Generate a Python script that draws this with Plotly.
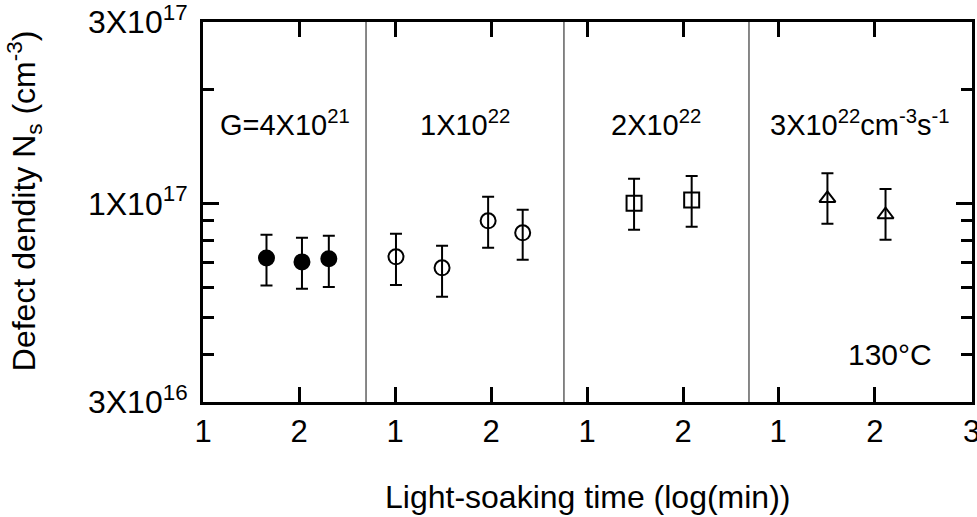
import plotly.graph_objects as go

# ---------------- data (x = log10 of light-soaking time in min) ----------------
# Panel 1: G = 4x10^21 (filled circles)
x_p1 = [1.66, 2.03, 2.31]
y_p1 = [7.18e16, 7.01e16, 7.14e16]
up_p1 = [1.08e16, 1.10e16, 1.07e16]
dn_p1 = [1.11e16, 1.05e16, 1.12e16]

# Panel 2: G = 1x10^22 (open circles)
x_p2 = [1.01, 1.49, 1.97, 2.33]
y_p2 = [7.23e16, 6.76e16, 8.99e16, 8.36e16]
up_p2 = [1.08e16, 0.97e16, 1.41e16, 1.25e16]
dn_p2 = [1.14e16, 1.09e16, 1.35e16, 1.26e16]

# Panel 3: G = 2x10^22 (open squares)
x_p3 = [1.49, 2.09]
y_p3 = [1.00e17, 1.02e17]
up_p3 = [1.60e16, 1.60e16]
dn_p3 = [1.48e16, 1.53e16]

# Panel 4: G = 3x10^22 (open triangles)
x_p4 = [1.51, 2.11]
y_p4 = [1.03e17, 9.33e16]
up_p4 = [1.70e16, 1.57e16]
dn_p4 = [1.47e16, 1.31e16]

panel_labels = ["G=4X10<sup>21</sup>", "1X10<sup>22</sup>", "2X10<sup>22</sup>",
                "3X10<sup>22</sup>cm<sup>-3</sup>s<sup>-1</sup>"]
x_tickvals = [1, 2, 3]
x_ticktext = ["1", "2", "3"]
y_tickvals = [3e16, 1e17, 3e17]
y_ticktext = ["3X10<sup>16</sup>", "1X10<sup>17</sup>", "3X10<sup>17</sup>"]
y_minor = [4e16, 5e16, 6e16, 7e16, 8e16, 9e16, 2e17]
temp_label = "130°C"

# ---------------- layout geometry ----------------
FONT = "Liberation Sans, Arial, Helvetica, sans-serif"
W, H = 977, 517
L, R, T, B = 203, 5, 22, 115
domains = [[0.0, 0.212], [0.212, 0.4694], [0.4694, 0.710], [0.710, 1.0]]
xranges = [[0.998, 2.698], [0.698, 2.760], [0.760, 2.687], [0.70, 3.003]]
yrange = [16.4766, 17.4776]

panels = [
    (x_p1, y_p1, up_p1, dn_p1, "circle", "black"),
    (x_p2, y_p2, up_p2, dn_p2, "circle-open", "black"),
    (x_p3, y_p3, up_p3, dn_p3, "square-open", "black"),
    (x_p4, y_p4, up_p4, dn_p4, "triangle-up-open", "black"),
]

fig = go.Figure()
for i, (xs, ys, up, dn, sym, col) in enumerate(panels):
    sfx = "" if i == 0 else str(i + 1)
    fig.add_trace(go.Scatter(
        x=xs, y=ys, mode="markers",
        xaxis="x" + sfx, yaxis="y" + sfx,
        marker=dict(symbol=sym, size=15 if sym != "triangle-up-open" else 14,
                    color=col, line=dict(width=2, color="black")),
        error_y=dict(type="data", symmetric=False, array=up, arrayminus=dn,
                     thickness=2, width=6, color="black"),
        showlegend=False,
    ))

layout = dict(
    width=W, height=H,
    margin=dict(l=L, r=R, t=T, b=B, pad=0),
    paper_bgcolor="white", plot_bgcolor="white",
    font=dict(family=FONT, color="black", size=30),
    showlegend=False,
)

for i in range(4):
    sfx = "" if i == 0 else str(i + 1)
    layout["xaxis" + sfx] = dict(
        domain=domains[i], range=xranges[i], anchor="y" + sfx,
        showline=True, linewidth=3, linecolor="black", mirror="ticks",
        ticks="inside", ticklen=15, tickwidth=2.5, tickcolor="black",
        tickmode="array", tickvals=x_tickvals, ticktext=x_ticktext,
        tickfont=dict(size=31, family=FONT, color="black"),
        showgrid=False, zeroline=False, automargin=False,
        ticklabelstandoff=0, ticklabeloverflow="allow",
    )
    ydict = dict(
        type="log", range=yrange, anchor="x" + sfx, domain=[0, 1],
        showgrid=False, zeroline=False, automargin=False,
    )
    if i == 0 or i == 3:
        ydict.update(
            showline=True, linewidth=3, linecolor="black",
            ticks="inside", ticklen=16, tickwidth=2.5, tickcolor="black",
            tickmode="array", tickvals=y_tickvals, ticktext=y_ticktext,
            tickfont=dict(size=32, family=FONT, color="black"),
            showticklabels=(i == 0),
            side="left" if i == 0 else "right",
            minor=dict(tickmode="array", tickvals=y_minor, ticks="inside",
                       ticklen=11, tickwidth=2.5, tickcolor="black", showgrid=False),
            ticklabelstandoff=6, ticklabeloverflow="allow",
        )
    else:
        ydict.update(showline=False, ticks="", showticklabels=False,
                     matches="y")
    layout["yaxis" + sfx] = ydict

fig.update_layout(**layout)

# thin separators between panels
for i in range(1, 4):
    fig.add_shape(type="line", xref="x%d domain" % (i + 1), yref="paper",
                  x0=0, x1=0, y0=0, y1=1,
                  line=dict(color="#111111", width=1))

# panel labels
for i, lab in enumerate(panel_labels):
    sfx = "" if i == 0 else str(i + 1)
    fig.add_annotation(text=lab, xref="x%s domain" % sfx, yref="paper",
                       x=0.5, y=0.733, xanchor="center", yanchor="middle",
                       showarrow=False, font=dict(size=29, family=FONT, color="black"))

fig.add_annotation(text=temp_label, xref="x4 domain", yref="paper",
                   x=0.632, y=0.125, xanchor="center", yanchor="middle",
                   showarrow=False, font=dict(size=30, family=FONT, color="black"))

# axis titles
fig.add_annotation(text="Light-soaking time (log(min))", xref="paper", yref="paper",
                   x=0.5, y=-0.25, xanchor="center", yanchor="middle",
                   showarrow=False, font=dict(size=32, family=FONT, color="black"))
fig.add_annotation(text="Defect dendity N<sub>s</sub> (cm<sup>-3</sup>)",
                   xref="paper", yref="paper", textangle=-90,
                   x=-0.232, y=0.53, xanchor="center", yanchor="middle",
                   showarrow=False, font=dict(size=32, family=FONT, color="black"))

fig.write_html("out.html")
